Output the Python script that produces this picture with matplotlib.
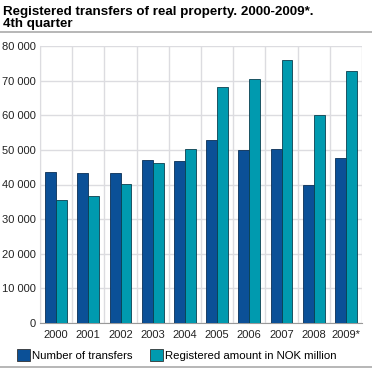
import matplotlib
matplotlib.use("Agg")
import matplotlib.pyplot as plt
import numpy as np
from matplotlib.lines import Line2D

years = ["2000", "2001", "2002", "2003", "2004", "2005", "2006", "2007", "2008", "2009*"]
transfers = [43600, 43300, 43300, 47100, 46700, 52800, 50000, 50200, 39800, 47700]
amount_nok = [35500, 36600, 40100, 46200, 50200, 68300, 70600, 76100, 60200, 72800]

series_labels = ["Number of transfers", "Registered amount in NOK million"]
colors = ["#0b5097", "#009aaf"]

plt.rcParams["font.family"] = ["Liberation Sans", "DejaVu Sans"]

W, H = 372, 369
fig = plt.figure(figsize=(W / 100, H / 100), dpi=100)
ax = fig.add_axes([40 / W, (H - 323) / H, (362 - 40) / W, (323 - 46) / H])

x = np.arange(len(years))
bw = 0.34
ax.bar(x - bw / 2, transfers, bw, color=colors[0], edgecolor="#0a2f55", linewidth=0.6, zorder=3)
ax.bar(x + bw / 2, amount_nok, bw, color=colors[1], edgecolor="#0a3f4f", linewidth=0.6, zorder=3)

ax.set_xlim(-0.5, len(years) - 0.5)
ax.set_ylim(0, 80000)
ax.set_yticks(np.arange(0, 80001, 10000))
ax.set_yticklabels([f"{v:,}".replace(",", " ") for v in range(0, 80001, 10000)])
ax.set_xticks(x)
ax.set_xticklabels(years)
ax.set_xticks(np.arange(-0.5, len(years), 1), minor=True)

ax.grid(axis="y", color="#dcdce0", linewidth=1, zorder=0)
ax.grid(axis="x", which="minor", color="#dcdce0", linewidth=1, zorder=0)
ax.tick_params(axis="both", which="both", length=0, labelsize=8, colors="#222222", pad=3)
ax.tick_params(axis="x", pad=5)
for s in ["top", "right"]:
    ax.spines[s].set_visible(False)
ax.spines["left"].set_color("#dcdce0")
ax.spines["bottom"].set_color("#999999")

# title, two lines placed by baseline
fig.text(3 / W, 1 - 15 / H, "Registered transfers of real property. 2000-2009*.",
         fontsize=9.6, fontweight="bold", va="baseline", ha="left")
fig.text(3 / W, 1 - 27 / H, "4th quarter",
         fontsize=9.6, fontweight="bold", va="baseline", ha="left")
fig.add_artist(Line2D([0, 1], [1 - 32 / H, 1 - 32 / H], color="#aaaaaa", linewidth=1.2))
fig.add_artist(Line2D([0, 1], [1 - 367 / H, 1 - 367 / H], color="#aaaaaa", linewidth=1.2))

handles = [plt.Rectangle((0, 0), 1, 1, facecolor=c, edgecolor="#333333", linewidth=0.6) for c in colors]
fig.legend(handles, series_labels, loc="center", bbox_to_anchor=(177 / W, 1 - 355 / H), ncol=2,
           frameon=False, fontsize=8.2, handlelength=1.15, handleheight=1.15, handletextpad=0.2,
           columnspacing=1.5, borderpad=0)

fig.savefig("out.png", dpi=100)
